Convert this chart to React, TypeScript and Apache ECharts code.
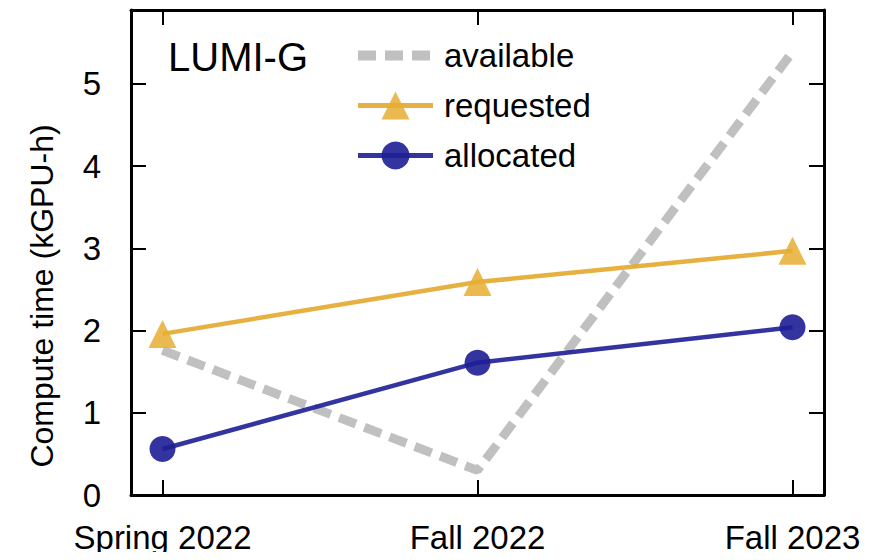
import React, { useEffect, useRef } from "react";
import * as echarts from "echarts";

const categories = ["Spring 2022", "Fall 2022", "Fall 2023"];
const available = [1.76, 0.3, 5.39];
const requested = [1.96, 2.59, 2.97];
const allocated = [0.56, 1.61, 2.04];
const yTicks = [0, 1, 2, 3, 4, 5];

const FONT = "Liberation Sans, Arial, Helvetica, sans-serif";

export default function App() {
  const ref = useRef<HTMLDivElement>(null);
  useEffect(() => {
    if (!ref.current) return;
    const chart = echarts.init(ref.current, null, { renderer: "svg" });
    const pts = (arr: number[]) => arr.map((v, i) => [i, v]);
    const axisLine = { show: true, onZero: false, lineStyle: { color: "#000", width: 3 } };
    const tick = { show: true, inside: true, length: 15, lineStyle: { color: "#000", width: 2 } };
    chart.setOption({
      animation: false,
      backgroundColor: "#fff",
      grid: { left: 131, right: 49, top: 10, bottom: 65, containLabel: false },
      graphic: [
        {
          type: "text",
          left: 168,
          top: 37,
          style: { text: "LUMI-G", font: `40px ${FONT}`, fill: "#000" },
        },
        {
          type: "text",
          x: 42,
          y: 296,
          rotation: Math.PI / 2,
          style: {
            text: "Compute time (kGPU-h)",
            font: `32px ${FONT}`,
            fill: "#000",
            align: "center",
            verticalAlign: "middle",
          },
        },
      ],
      legend: {
        orient: "vertical",
        left: 353,
        top: 39,
        padding: 0,
        itemWidth: 75,
        itemHeight: 35,
        itemGap: 17,
        textStyle: {
          fontSize: 33,
          lineHeight: 30,
          fontFamily: FONT,
          color: "#000",
          padding: [0, 0, 0, 6],
        },
        data: [
          {
            name: "available",
            itemStyle: { opacity: 0 },
            lineStyle: { color: "#c0c0c0", width: 10, type: [18, 9] },
          },
          { name: "requested", lineStyle: { color: "#e3a92c", width: 5 } },
          { name: "allocated", lineStyle: { color: "#1e1e96", width: 5 } },
        ],
      },
      xAxis: [
        {
          type: "value",
          min: -0.1,
          max: 2.1,
          axisLine,
          axisTick: { ...tick, customValues: [0, 1, 2] },
          axisLabel: {
            customValues: [0, 1, 2],
            formatter: (v: number) => categories[Math.round(v)] ?? "",
            fontSize: 33,
            fontFamily: FONT,
            color: "#000",
            margin: 26,
          },
          splitLine: { show: false },
        },
        {
          type: "value",
          position: "top",
          min: -0.1,
          max: 2.1,
          axisLine,
          axisTick: { ...tick, customValues: [0, 1, 2] },
          axisLabel: { show: false },
          splitLine: { show: false },
        },
      ],
      yAxis: [
        {
          type: "value",
          min: 0,
          max: 5.9,
          interval: 1,
          axisLine,
          axisTick: { ...tick, customValues: yTicks },
          axisLabel: {
            customValues: yTicks,
            fontSize: 33,
            fontFamily: FONT,
            color: "#000",
            margin: 30,
          },
          splitLine: { show: false },
        },
        {
          type: "value",
          position: "right",
          min: 0,
          max: 5.9,
          interval: 1,
          axisLine,
          axisTick: { ...tick, customValues: yTicks },
          axisLabel: { show: false },
          splitLine: { show: false },
        },
      ],
      series: [
        {
          name: "available",
          type: "line",
          data: pts(available),
          symbol: "none",
          lineStyle: { color: "#c0c0c0", width: 9, type: [18, 9] },
          itemStyle: { color: "#c0c0c0" },
          z: 1,
        },
        {
          name: "requested",
          type: "line",
          data: pts(requested),
          symbol: "triangle",
          symbolSize: [28, 28],
          lineStyle: { color: "#e3a92c", width: 4.5, opacity: 0.9 },
          itemStyle: { color: "#e6ae32", opacity: 0.85 },
          z: 2,
        },
        {
          name: "allocated",
          type: "line",
          data: pts(allocated),
          symbol: "circle",
          symbolSize: 26,
          lineStyle: { color: "#1e1e96", width: 4.5, opacity: 0.9 },
          itemStyle: { color: "#1e1e96", opacity: 0.9 },
          z: 3,
        },
      ],
    });
    return () => chart.dispose();
  }, []);
  return <div ref={ref} style={{ width: 873, height: 560, margin: -8 }} />;
}
